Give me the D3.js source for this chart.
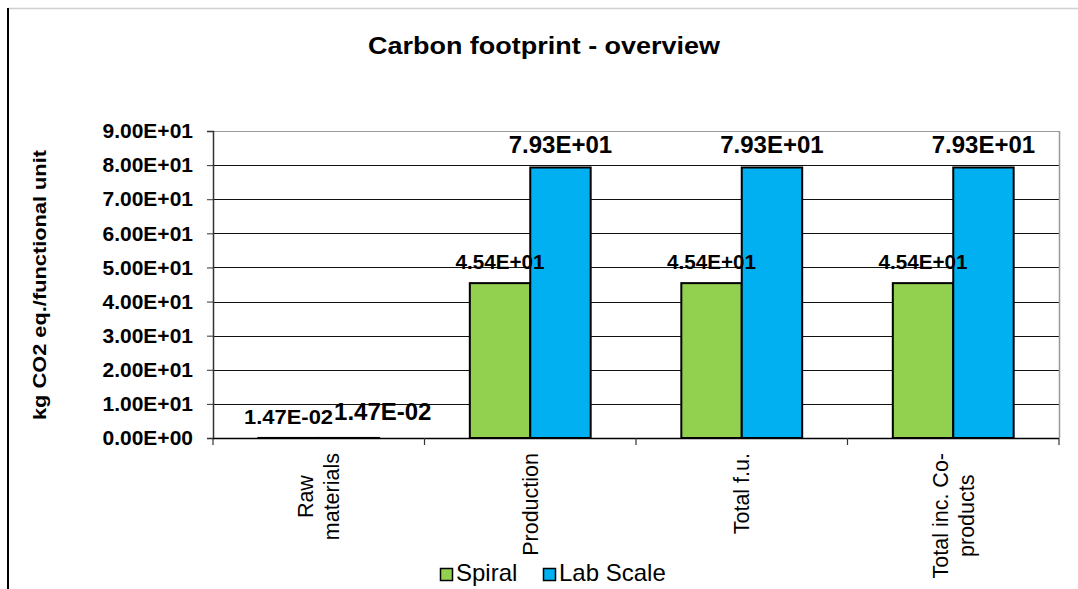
<!DOCTYPE html>
<html>
<head>
<meta charset="utf-8">
<script src="https://cdn.jsdelivr.net/npm/d3@7"></script>
<style>
  html, body { margin: 0; padding: 0; background: #fff; }
  svg { display: block; font-family: "Liberation Sans", Arial, sans-serif; }
</style>
</head>
<body>
<svg id="chart" width="1078" height="589"></svg>
<script>
// Carbon footprint per stage, kg CO2 eq. per functional unit
const categories = ["Raw materials", "Production", "Total f.u.", "Total inc. Co-products"];
const categoryLines = [["Raw", "materials"], ["Production"], ["Total f.u."], ["Total inc. Co-", "products"]];
const seriesNames = ["Spiral", "Lab Scale"];
const spiralValues = [0.0147, 45.4, 45.4, 45.4];
const labScaleValues = [0.0147, 79.3, 79.3, 79.3];
const yTicks = [0, 10, 20, 30, 40, 50, 60, 70, 80, 90];
const seriesColors = ["#92D050", "#00B0F0"];

// Scientific notation as "7.93E+01"
function sci(v) {
  const [m, e] = v.toExponential(2).split("e");
  const sign = e[0] === "-" ? "-" : "+";
  const digits = e.replace(/[+-]/, "").padStart(2, "0");
  return m + "E" + sign + digits;
}

const svg = d3.select("#chart");
const plot = { left: 213, right: 1059, top: 131, bottom: 438 };

// outer frame
svg.append("line").attr("x1", 8).attr("x2", 1078).attr("y1", 8.5).attr("y2", 8.5)
  .attr("stroke", "#d0d0d0").attr("stroke-width", 1.5);
svg.append("line").attr("x1", 8).attr("x2", 8).attr("y1", 8).attr("y2", 589)
  .attr("stroke", "#000").attr("stroke-width", 2);

// title
svg.append("text")
  .attr("x", 544).attr("y", 54)
  .attr("text-anchor", "middle")
  .attr("font-weight", "bold").attr("font-size", 23)
  .attr("textLength", 352).attr("lengthAdjust", "spacingAndGlyphs")
  .text("Carbon footprint - overview");

const y = d3.scaleLinear().domain([0, 90]).range([plot.bottom, plot.top]);
const x0 = d3.scaleBand().domain(categories).range([plot.left, plot.right]);
const barW = x0.bandwidth() / 3.5;
const x1 = d3.scaleBand().domain(seriesNames).range([0.75 * barW, 2.75 * barW]);

// gridlines
svg.append("g").selectAll("line").data(yTicks.filter(t => t > 0)).join("line")
  .attr("x1", plot.left).attr("x2", plot.right)
  .attr("y1", d => Math.round(y(d)) + 0.5).attr("y2", d => Math.round(y(d)) + 0.5)
  .attr("stroke", d => d === 90 ? "#999" : "#111").attr("stroke-width", 1);

// right border of plot area
svg.append("line")
  .attr("x1", plot.right + 0.5).attr("x2", plot.right + 0.5)
  .attr("y1", plot.top).attr("y2", plot.bottom)
  .attr("stroke", "#999").attr("stroke-width", 1.5);

// y axis
const yAxis = d3.axisLeft(y).tickValues(yTicks).tickFormat(sci).tickSize(6).tickPadding(14);
const gy = svg.append("g").attr("transform", `translate(${plot.left},0)`).call(yAxis);
gy.select(".domain").attr("stroke", "#333").attr("stroke-width", 1.5);
gy.selectAll(".tick line").attr("stroke", "#333");
gy.selectAll(".tick text")
  .attr("font-family", "Liberation Sans, Arial, sans-serif")
  .attr("font-size", 21).attr("font-weight", "bold").attr("fill", "#000");

// y axis title
svg.append("text")
  .attr("transform", "translate(46,285) rotate(-90)")
  .attr("text-anchor", "middle")
  .attr("font-weight", "bold").attr("font-size", 18)
  .attr("textLength", 270).attr("lengthAdjust", "spacingAndGlyphs")
  .text("kg CO2 eq./functional unit");

// bars
const rows = categories.map((c, i) => ({
  cat: c,
  vals: [spiralValues[i], labScaleValues[i]]
}));

const groups = svg.append("g").selectAll("g").data(rows).join("g")
  .attr("transform", d => `translate(${x0(d.cat)},0)`);

groups.selectAll("rect").data(d => d.vals.map((v, j) => ({ v, s: seriesNames[j], j }))).join("rect")
  .attr("x", d => x1(d.s))
  .attr("width", x1.bandwidth())
  .attr("y", d => y(d.v))
  .attr("height", d => y(0) - y(d.v))
  .attr("fill", d => seriesColors[d.j])
  .attr("stroke", "#000").attr("stroke-width", 2);

// x axis
const xAxisG = svg.append("g");
xAxisG.append("line")
  .attr("x1", plot.left).attr("x2", plot.right)
  .attr("y1", plot.bottom + 0.5).attr("y2", plot.bottom + 0.5)
  .attr("stroke", "#000").attr("stroke-width", 1.5);
const boundaries = categories.map(c => x0(c)).concat([plot.right]);
xAxisG.selectAll("line.tk").data(boundaries).join("line").attr("class", "tk")
  .attr("x1", d => d).attr("x2", d => d)
  .attr("y1", plot.bottom).attr("y2", plot.bottom + 7)
  .attr("stroke", "#333").attr("stroke-width", 1.2);

// value labels
groups.each(function(d) {
  const g = d3.select(this);
  const sx = x1("Spiral") + x1.bandwidth() / 2;
  const lx = x1("Lab Scale") + x1.bandwidth() / 2;
  const t1 = g.append("text")
    .attr("x", sx).attr("y", y(d.vals[0]) - 14)
    .attr("text-anchor", "middle")
    .attr("font-weight", "bold").attr("font-size", 21)
    .attr("textLength", 89).attr("lengthAdjust", "spacingAndGlyphs")
    .text(sci(d.vals[0]));
  const t2 = g.append("text")
    .attr("x", lx).attr("y", y(d.vals[1]) - 14)
    .attr("text-anchor", "middle")
    .attr("font-weight", "bold").attr("font-size", 24)
    .text(sci(d.vals[1]));
  // push the second label right when the two would overlap
  const b1 = t1.node().getBBox();
  const b2 = t2.node().getBBox();
  const overlapY = b2.y < b1.y + b1.height && b1.y < b2.y + b2.height;
  const overlapX = b2.x < b1.x + b1.width && b1.x < b2.x + b2.width;
  if (overlapX && overlapY) {
    t2.attr("text-anchor", "start").attr("x", b1.x + b1.width + 1).attr("y", y(d.vals[1]) - 18);
  }
});

// category labels, rotated, longest line ending just under the axis
const lineStep = 26;
categories.forEach((c, i) => {
  const lines = categoryLines[i];
  const g = svg.append("g")
    .attr("transform", `translate(${x0(c) + x0.bandwidth() / 2},453) rotate(-90)`);
  const texts = g.selectAll("text").data(lines).join("text")
    .attr("font-size", 21.5)
    .attr("text-anchor", "middle")
    .attr("y", (l, k) => (k - (lines.length - 1) / 2) * lineStep + 7.5)
    .text(l => l);
  const maxLen = d3.max(texts.nodes(), n => n.getComputedTextLength());
  texts.attr("x", -maxLen / 2);
});

// legend
const legend = svg.append("g");
const legendItems = [{ x: 440, name: seriesNames[0], color: seriesColors[0] },
                     { x: 543, name: seriesNames[1], color: seriesColors[1] }];
legendItems.forEach(it => {
  legend.append("rect")
    .attr("x", it.x + 0.5).attr("y", 568.5).attr("width", 12).attr("height", 12)
    .attr("fill", it.color).attr("stroke", "#000").attr("stroke-width", 1.5);
  legend.append("text")
    .attr("x", it.x + 16).attr("y", 581)
    .attr("font-size", 24)
    .text(it.name);
});
</script>
</body>
</html>
